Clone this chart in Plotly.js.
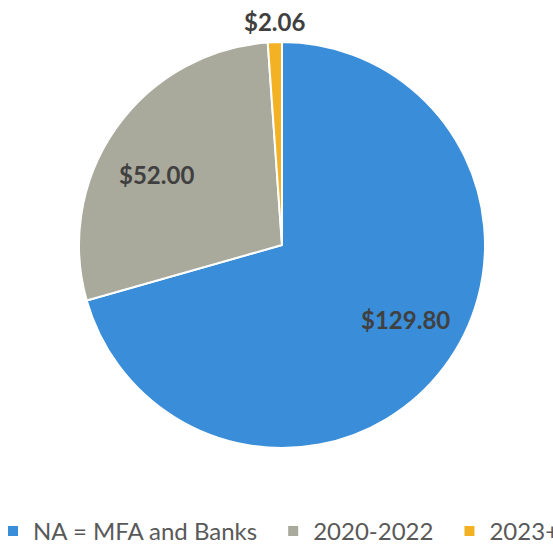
<!DOCTYPE html>
<html>
<head>
<meta charset="utf-8">
<script src="https://cdn.plot.ly/plotly-3.0.1.min.js"></script>
<style>
html,body{margin:0;padding:0;overflow:hidden;background:#fff;}
#chart{width:600px;height:548px;}
</style>
</head>
<body>
<div id="chart"></div>
<script>
var categories = ["NA = MFA and Banks", "2020-2022", "2023+"];
var values = [129.80, 52.00, 2.06];
var valueLabels = ["$129.80", "$52.00", "$2.06"];
var labelPlacement = ["inside", "inside", "outside"];
var colors = ["#3A8DD8", "#A9A99C", "#F2B224"];

var W = 600, H = 548;
var cx = 282, cy = 245, r = 203;
var insideRadius = 0.71, outsideGap = 21, insideAngleShift = -6;
var FONT = "Lato, 'Open Sans', sans-serif";

var trace = {
  type: "pie",
  labels: categories,
  values: values,
  textinfo: "none",
  sort: false,
  direction: "clockwise",
  rotation: 0,
  marker: {colors: colors, line: {color: "#ffffff", width: 2}},
  domain: {x: [(cx - r) / W, (cx + r) / W], y: [1 - (cy + r) / H, 1 - (cy - r) / H]},
  hoverinfo: "none"
};

// value labels placed from the data: mid-angle of each slice
var total = values.reduce(function (a, b) { return a + b; }, 0);
var annotations = [];
var cum = 0;
for (var i = 0; i < values.length; i++) {
  var mid = (cum + values[i] / 2) / total * 360;
  cum += values[i];
  var inside = labelPlacement[i] === "inside";
  var ang = (inside ? mid + insideAngleShift : mid) * Math.PI / 180;
  var d = inside ? r * insideRadius : r + outsideGap;
  var px = cx + d * Math.sin(ang);
  var py = cy - d * Math.cos(ang);
  annotations.push({
    xref: "paper", yref: "paper",
    x: px / W, y: 1 - py / H,
    xanchor: "center", yanchor: "middle",
    text: valueLabels[i],
    showarrow: false,
    font: {family: FONT, size: 24, color: "#404040", weight: "bold"}
  });
}

var layout = {
  width: W,
  height: H,
  margin: {l: 0, r: 0, t: 0, b: 0, autoexpand: false},
  paper_bgcolor: "#ffffff",
  showlegend: true,
  annotations: annotations,
  legend: {
    orientation: "h",
    x: -18 / W,
    xanchor: "left",
    y: -6 / H,
    yanchor: "bottom",
    font: {family: FONT, size: 24, color: "#595959"},
    itemwidth: 30,
    indentation: 11,
    bgcolor: "rgba(0,0,0,0)"
  },
  font: {family: FONT}
};

Plotly.newPlot("chart", [trace], layout, {staticPlot: true, displayModeBar: false});
</script>
</body>
</html>
